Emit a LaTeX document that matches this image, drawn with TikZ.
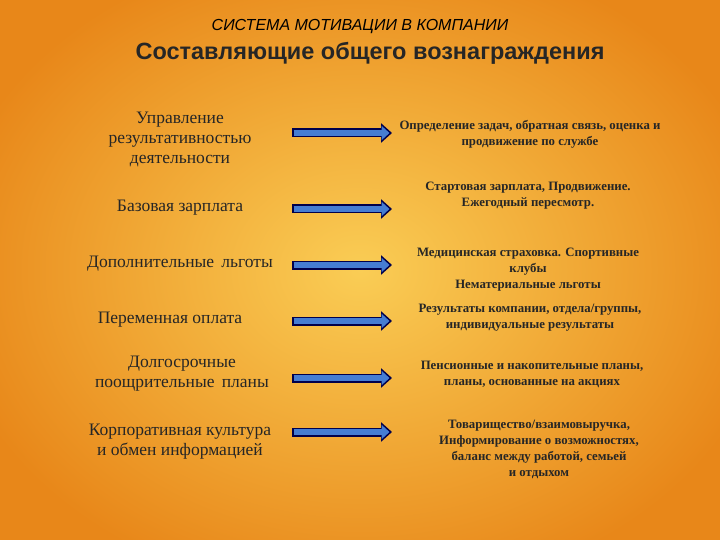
\documentclass[tikz,border=0pt]{standalone}
\usepackage{fontspec}
\setmainfont{Liberation Serif}
\setsansfont{Liberation Sans}
\usetikzlibrary{arrows.meta}
\begin{document}
\begin{tikzpicture}[x=1pt,y=-1pt,
  lt/.style={font=\fontsize{17.5}{20}\selectfont, align=center, text=black!85},
  rt/.style={font=\fontsize{12.8}{16}\selectfont\bfseries, align=center, text=black!85},
  arr/.style={line width=9pt, draw=blue!30!black, -{Triangle[length=11pt,width=19pt]}},
  arrin/.style={line width=6pt, draw={rgb,255:red,70;green,125;blue,210}, -{Triangle[length=8pt,width=14pt]}}]
\useasboundingbox (0,0) rectangle (720,540);
\shade[inner color={rgb,255:red,250;green,205;blue,85}, outer color={rgb,255:red,232;green,135;blue,25}] (-60,-60) rectangle (780,600);
\node[font=\sffamily\itshape\fontsize{16}{18}\selectfont] (t1) at (360,27) {СИСТЕМА МОТИВАЦИИ В КОМПАНИИ};
\node[font=\sffamily\bfseries\fontsize{23.5}{26}\selectfont, text=black!85] (t2) at (370,53) {Составляющие общего вознаграждения};
\node[lt] (l1) at (180,139) {Управление\\результативностью\\деятельности};
\node[lt] (l2) at (180,208) {Базовая зарплата};
\node[lt] (l3) at (180,264) {Дополнительные\, льготы};
\node[lt] (l4) at (170,320) {Переменная оплата};
\node[lt] (l5) at (182,374) {Долгосрочные\\поощрительные\, планы};
\node[lt] (l6) at (180,442) {Корпоративная культура\\и обмен информацией};
\node[rt] (r1) at (530,134) {Определение задач, обратная связь, оценка и\\продвижение по службе};
\node[rt] (r2) at (528,196) {Стартовая зарплата, Продвижение.\\Ежегодный пересмотр.};
\node[rt] (r3) at (528,270) {Медицинская страховка. Спортивные\\клубы\\Нематериальные льготы};
\node[rt] (r4) at (530,318) {Результаты компании, отдела/группы,\\индивидуальные результаты};
\node[rt] (r5) at (532,374) {Пенсионные и накопительные планы,\\планы, основанные на акциях};
\node[rt] (r6) at (539,449) {Товарищество/взаимовыручка,\\Информирование о возможностях,\\баланс между работой, семьей\\и отдыхом};
\foreach \y/\i in {133/1,209/2,265/3,321/4,378/5,432/6}{
  \coordinate (a\i) at (292,\y); \coordinate (b\i) at (392,\y);
  \draw[arr] (a\i) -- (b\i);
  \draw[arrin] ([xshift=1.5pt]a\i) -- ([xshift=-2.5pt]b\i);
}
\end{tikzpicture}
\end{document}
